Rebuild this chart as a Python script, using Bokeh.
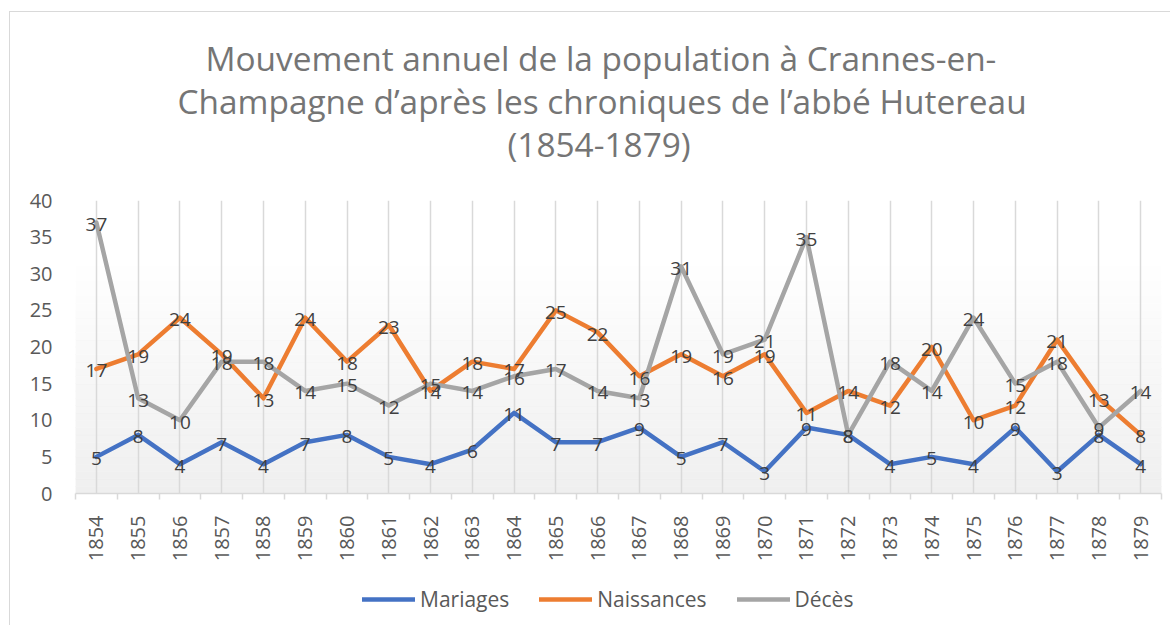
import numpy as np
from bokeh.plotting import figure
from bokeh.layouts import column
from bokeh.models import (ColumnDataSource, Range1d, FixedTicker, Legend,
                          LegendItem, Title)
from bokeh.core.properties import value
from bokeh.embed import file_html
from bokeh.resources import INLINE

# ---------------- data ----------------
years = ["1854", "1855", "1856", "1857", "1858", "1859", "1860", "1861", "1862",
         "1863", "1864", "1865", "1866", "1867", "1868", "1869", "1870", "1871",
         "1872", "1873", "1874", "1875", "1876", "1877", "1878", "1879"]
mariages = [5, 8, 4, 7, 4, 7, 8, 5, 4, 6, 11, 7, 7, 9, 5, 7, 3, 9, 8, 4, 5, 4, 9, 3, 8, 4]
naissances = [17, 19, 24, 19, 13, 24, 18, 23, 14, 18, 17, 25, 22, 16, 19, 16, 19, 11,
              14, 12, 20, 10, 12, 21, 13, 8]
deces = [37, 13, 10, 18, 18, 14, 15, 12, 15, 14, 16, 17, 14, 13, 31, 19, 21, 35,
         8, 18, 14, 24, 15, 18, 9, 14]
series_names = ["Mariages", "Naissances", "Décès"]
series_colors = ["#4472C4", "#ED7D31", "#A5A5A5"]
y_ticks = [0, 5, 10, 15, 20, 25, 30, 35, 40]
title_lines = ["Mouvement annuel de la population à Crannes-en-",
               "Champagne d’après les chroniques de l’abbé Hutereau",
               "(1854-1879)"]

FONT = "Open Sans"
TXT = "#595959"

xs = list(range(len(years)))
src = ColumnDataSource(dict(
    x=xs,
    mariages=mariages, naissances=naissances, deces=deces,
    mariages_t=[str(v) for v in mariages],
    naissances_t=[str(v) for v in naissances],
    deces_t=[str(v) for v in deces],
))

x_lo, x_hi = -0.5, len(years) - 0.5
p = figure(width=1160, height=563, output_backend="svg", toolbar_location=None,
           x_range=Range1d(x_lo, x_hi), y_range=Range1d(0, 40),
           min_border_left=65, min_border_right=9, min_border_top=188,
           min_border_bottom=82)
p.outline_line_color = None
p.background_fill_color = "white"
p.border_fill_color = "white"

# soft vertical gradient of the plot area (decorative bands)
n_bands = 31
band_src = ColumnDataSource(dict(
    bottom=[i for i in range(n_bands)],
    top=[i + 1 for i in range(n_bands)],
    color=["#%02x%02x%02x" % ((int(round(239 + 16 * i / n_bands)),) * 3) for i in range(n_bands)],
))
p.quad(left=x_lo, right=x_hi, bottom="bottom", top="top", fill_color="color",
       line_color="color", line_width=0.5, source=band_src, level="image")

# titles: p.title is outermost; items added to "above" stack outward from the frame.
# Left-aligned with pixel offsets so that each line is centred on the chart area.
def style_title(t, offset):
    t.align = "left"
    t.offset = offset
    t.text_font = FONT
    t.text_font_size = "33.4px"
    t.text_font_style = "normal"
    t.text_color = "#757575"

p.title.text = title_lines[0]
style_title(p.title, 130)
p.title.standoff = 35
spacer = Title(text=" ", standoff=0, text_font_size="12px")
p.add_layout(spacer, "above")
t3 = Title(text=title_lines[2], standoff=35)
style_title(t3, 432)
p.add_layout(t3, "above")
t2 = Title(text=title_lines[1], standoff=-45)
style_title(t2, 102)
p.add_layout(t2, "above")

# axes
xa = p.xaxis[0]
xa.ticker = FixedTicker(ticks=xs, minor_ticks=[i - 0.5 for i in range(len(years) + 1)])
xa.major_label_overrides = {i: y for i, y in enumerate(years)}
xa.major_label_orientation = np.pi / 2
xa.major_tick_line_color = None
xa.major_tick_out = 0
xa.major_tick_in = 0
xa.minor_tick_line_color = "#d9d9d9"
xa.minor_tick_line_width = 1.5
xa.minor_tick_out = 6
xa.minor_tick_in = 0
xa.axis_line_color = "#d9d9d9"
xa.axis_line_width = 1.5
xa.major_label_standoff = 16
xa.major_label_text_font = FONT
xa.major_label_text_font_size = "20px"
xa.major_label_text_color = TXT

ya = p.yaxis[0]
ya.ticker = FixedTicker(ticks=y_ticks)
ya.axis_line_color = None
ya.major_tick_line_color = None
ya.minor_tick_line_color = None
ya.major_tick_out = 0
ya.major_tick_in = 0
ya.major_label_standoff = 23
ya.major_label_text_font = FONT
ya.major_label_text_font_size = "20px"
ya.major_label_text_color = TXT

p.xgrid.grid_line_color = "#d9d9d9"
p.xgrid.grid_line_width = 1.5
p.ygrid.grid_line_color = None

# lines
cols = ["mariages", "naissances", "deces"]
for col, color in zip(cols, series_colors):
    p.line("x", col, source=src, line_color=color, line_width=4.5,
           line_join="round", line_cap="round")

# data labels
for col in cols:
    p.text("x", col, text=col + "_t", source=src, text_font=value(FONT),
           text_font_size="19px", text_color="#404040", text_align="center",
           text_baseline="middle", y_offset=2)

# legend strip below the chart (its sample lines lie outside the visible range)
pl = figure(width=1160, height=50, output_backend="svg", toolbar_location=None,
            x_range=Range1d(0, 1), y_range=Range1d(0, 1),
            x_axis_location=None, y_axis_location=None,
            min_border_left=0, min_border_right=0, min_border_top=0, min_border_bottom=0)
pl.outline_line_color = None
pl.xgrid.grid_line_color = None
pl.ygrid.grid_line_color = None
pl.border_fill_color = "white"
hidden = ColumnDataSource(dict(x=[5, 6], y=[5, 6]))
leg_rends = [pl.line("x", "y", source=hidden, line_color=c, line_width=4.5, line_cap="round")
             for c in series_colors]
legend = Legend(items=[LegendItem(label=n, renderers=[r]) for n, r in zip(series_names, leg_rends)],
                orientation="horizontal", location=(287, 12),
                label_text_font=FONT, label_text_font_size="21px", label_text_color=TXT,
                glyph_width=53, glyph_height=20, spacing=30, label_standoff=5,
                border_line_color=None, background_fill_alpha=0, margin=0, padding=4)
pl.add_layout(legend)

layout = column(p, pl, spacing=0)
layout.styles = {"margin-left": "9px", "margin-top": "11px",
                 "border-left": "1px solid #d9d9d9", "border-top": "1px solid #d9d9d9"}

open("out.html", "w").write(file_html(layout, INLINE))
